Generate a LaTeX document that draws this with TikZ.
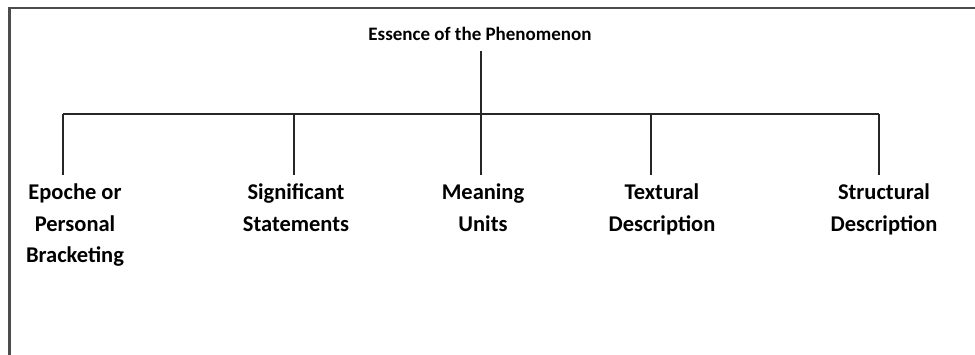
\documentclass[tikz,border=0pt]{standalone}
\usepackage{fontspec}
\setmainfont{Carlito}
\begin{document}
\begin{tikzpicture}[x=1pt,y=-1pt,
  lbl/.style={font=\bfseries\fontsize{22.5}{31.5}\selectfont, align=center, inner sep=0pt, anchor=base},
  ttl/.style={font=\bfseries\fontsize{19}{22}\selectfont, inner sep=0pt, anchor=base},
  conn/.style={line width=1.3pt, black!85},
  leg/.style={conn, shorten >=9pt},
  frame/.style={line width=2.2pt, black!70}]
\useasboundingbox (0,0) rectangle (975,355);
\draw[frame] (9.5,355) -- (9.5,8) -- (975,8);
\node[ttl] (root) at (480,41) {Essence of the Phenomenon};
\coordinate (mid) at (481,114);
\coordinate (b1) at (63,114);
\coordinate (b2) at (294,114);
\coordinate (b3) at (481,114);
\coordinate (b4) at (651,114);
\coordinate (b5) at (879,114);
\node[lbl] (n1) at (75,263) {Epoche or\\Personal\\Bracketing};
\node[lbl] (n2) at (296,231.5) {Significant\\Statements};
\node[lbl] (n3) at (483,231.5) {Meaning\\Units};
\node[lbl] (n4) at (662,231.5) {Textural\\Description};
\node[lbl] (n5) at (884,231.5) {Structural\\Description};
\draw[conn, shorten <=10pt] (mid |- root.south) -- (mid);
\draw[conn] (b1) -- (b5);
\draw[leg] (b1) -- (b1 |- n1.north);
\draw[leg] (b2) -- (b2 |- n2.north);
\draw[leg] (b3) -- (b3 |- n3.north);
\draw[leg] (b4) -- (b4 |- n4.north);
\draw[leg] (b5) -- (b5 |- n5.north);
\end{tikzpicture}
\end{document}
